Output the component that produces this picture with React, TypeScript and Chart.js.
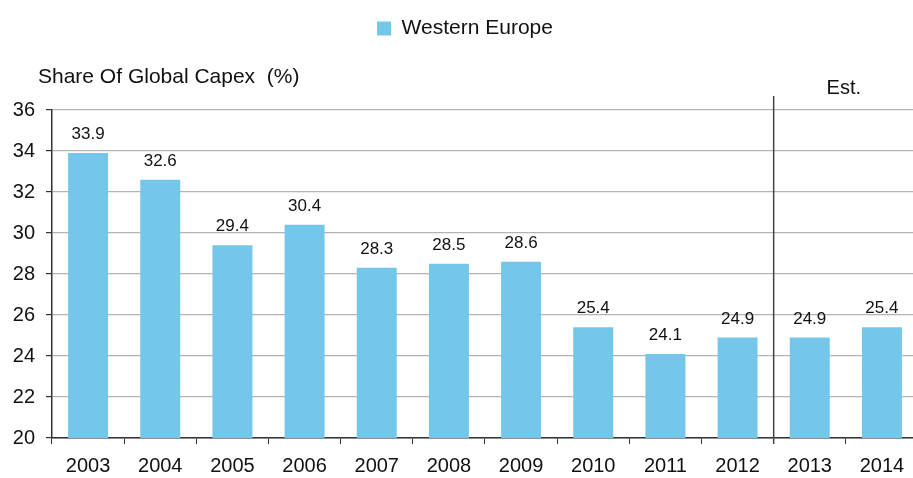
import React, { useEffect, useRef } from "react";
import { Chart, registerables } from "chart.js";

Chart.register(...registerables);

const years = ["2003", "2004", "2005", "2006", "2007", "2008", "2009", "2010", "2011", "2012", "2013", "2014"];
const westernEuropeShare = [33.9, 32.6, 29.4, 30.4, 28.3, 28.5, 28.6, 25.4, 24.1, 24.9, 24.9, 25.4];
const seriesName = "Western Europe";
const axisCaption = "Share Of Global Capex  (%)";
const estimateLabel = "Est.";
const firstEstimateIndex = 10;
const yMin = 20;
const yMax = 36;
const yStep = 2;

const FONT = "'Liberation Sans', Arial, sans-serif";
const BAR_COLOR = "#74C6EA";
const TEXT_COLOR = "#111111";
const AXIS_COLOR = "#333333";
const GRID_COLOR = "#b4b4b4";

const valueLabels = {
  id: "valueLabels",
  afterDatasetsDraw(chart: any) {
    const ctx = chart.ctx;
    const meta = chart.getDatasetMeta(0);
    ctx.save();
    ctx.font = `17px ${FONT}`;
    ctx.fillStyle = TEXT_COLOR;
    ctx.textAlign = "center";
    ctx.textBaseline = "alphabetic";
    meta.data.forEach((bar: any, i: number) => {
      const v = chart.data.datasets[0].data[i] as number;
      ctx.fillText(v.toFixed(1), bar.x, bar.y - 14);
    });
    ctx.restore();
  },
};

const annotations = {
  id: "annotations",
  afterDraw(chart: any) {
    const { ctx, chartArea, scales } = chart;
    ctx.save();
    ctx.font = `21px ${FONT}`;
    ctx.fillStyle = TEXT_COLOR;
    ctx.textAlign = "left";
    ctx.textBaseline = "middle";
    ctx.fillText(axisCaption, chartArea.left - 14, chartArea.top - 33);

    const x = scales.x.getPixelForValue(firstEstimateIndex - 0.5);
    ctx.strokeStyle = "#444444";
    ctx.lineWidth = 1.5;
    ctx.beginPath();
    ctx.moveTo(x, chartArea.top - 14);
    ctx.lineTo(x, chartArea.bottom + 6);
    ctx.stroke();

    const n = chart.data.labels.length;
    const ex = (scales.x.getPixelForValue(firstEstimateIndex) + scales.x.getPixelForValue(n - 1)) / 2 - 2;
    ctx.font = `20px ${FONT}`;
    ctx.textAlign = "center";
    ctx.fillText(estimateLabel, ex, chartArea.top - 22);
    ctx.restore();
  },
};

export default function App() {
  const canvasRef = useRef<HTMLCanvasElement | null>(null);

  useEffect(() => {
    if (!canvasRef.current) return;
    const chart = new Chart(canvasRef.current, {
      type: "bar",
      data: {
        labels: years,
        datasets: [
          {
            label: seriesName,
            data: westernEuropeShare,
            backgroundColor: BAR_COLOR,
            borderWidth: 0,
            categoryPercentage: 1,
            barPercentage: 0.554,
          },
        ],
      },
      options: {
        responsive: false,
        animation: false,
        layout: { padding: { left: 12, right: 0, top: 0, bottom: 0 } },
        plugins: {
          tooltip: { enabled: false },
          legend: {
            display: true,
            position: "top",
            weight: 3000,
            labels: {
              boxWidth: 14,
              boxHeight: 14,
              padding: 18,
              color: TEXT_COLOR,
              font: { family: FONT, size: 21 },
            },
          } as any,
          // empty title used only to reserve the row for the axis caption
          title: {
            display: true,
            text: "",
            position: "top",
            fullSize: true,
            padding: { top: 0, bottom: 37 },
            font: { family: FONT, size: 20 },
          },
        },
        scales: {
          x: {
            offset: true,
            grid: {
              display: true,
              offset: true,
              drawOnChartArea: false,
              drawTicks: true,
              tickLength: 6,
              tickColor: AXIS_COLOR,
            },
            border: { display: true, color: AXIS_COLOR, width: 1.5 },
            ticks: {
              color: TEXT_COLOR,
              padding: 10,
              maxRotation: 0,
              font: { family: FONT, size: 20 },
            },
          },
          y: {
            min: yMin,
            max: yMax,
            afterFit: (scale: any) => {
              scale.width = 40;
            },
            grid: {
              color: GRID_COLOR,
              lineWidth: 1.2,
              tickLength: 6,
              tickColor: AXIS_COLOR,
            },
            border: { display: true, color: AXIS_COLOR, width: 1.5 },
            ticks: {
              stepSize: yStep,
              color: TEXT_COLOR,
              padding: 11,
              font: { family: FONT, size: 20 },
            },
          },
        },
      },
      plugins: [valueLabels, annotations],
    });
    return () => chart.destroy();
  }, []);

  // The plot runs slightly past the right and bottom edges of the frame, as in the reference.
  return (
    <div style={{ position: "absolute", left: 0, top: 0, width: 913, height: 478, overflow: "hidden", background: "#fff" }}>
      <canvas ref={canvasRef} width={918} height={488} style={{ display: "block" }} />
    </div>
  );
}
